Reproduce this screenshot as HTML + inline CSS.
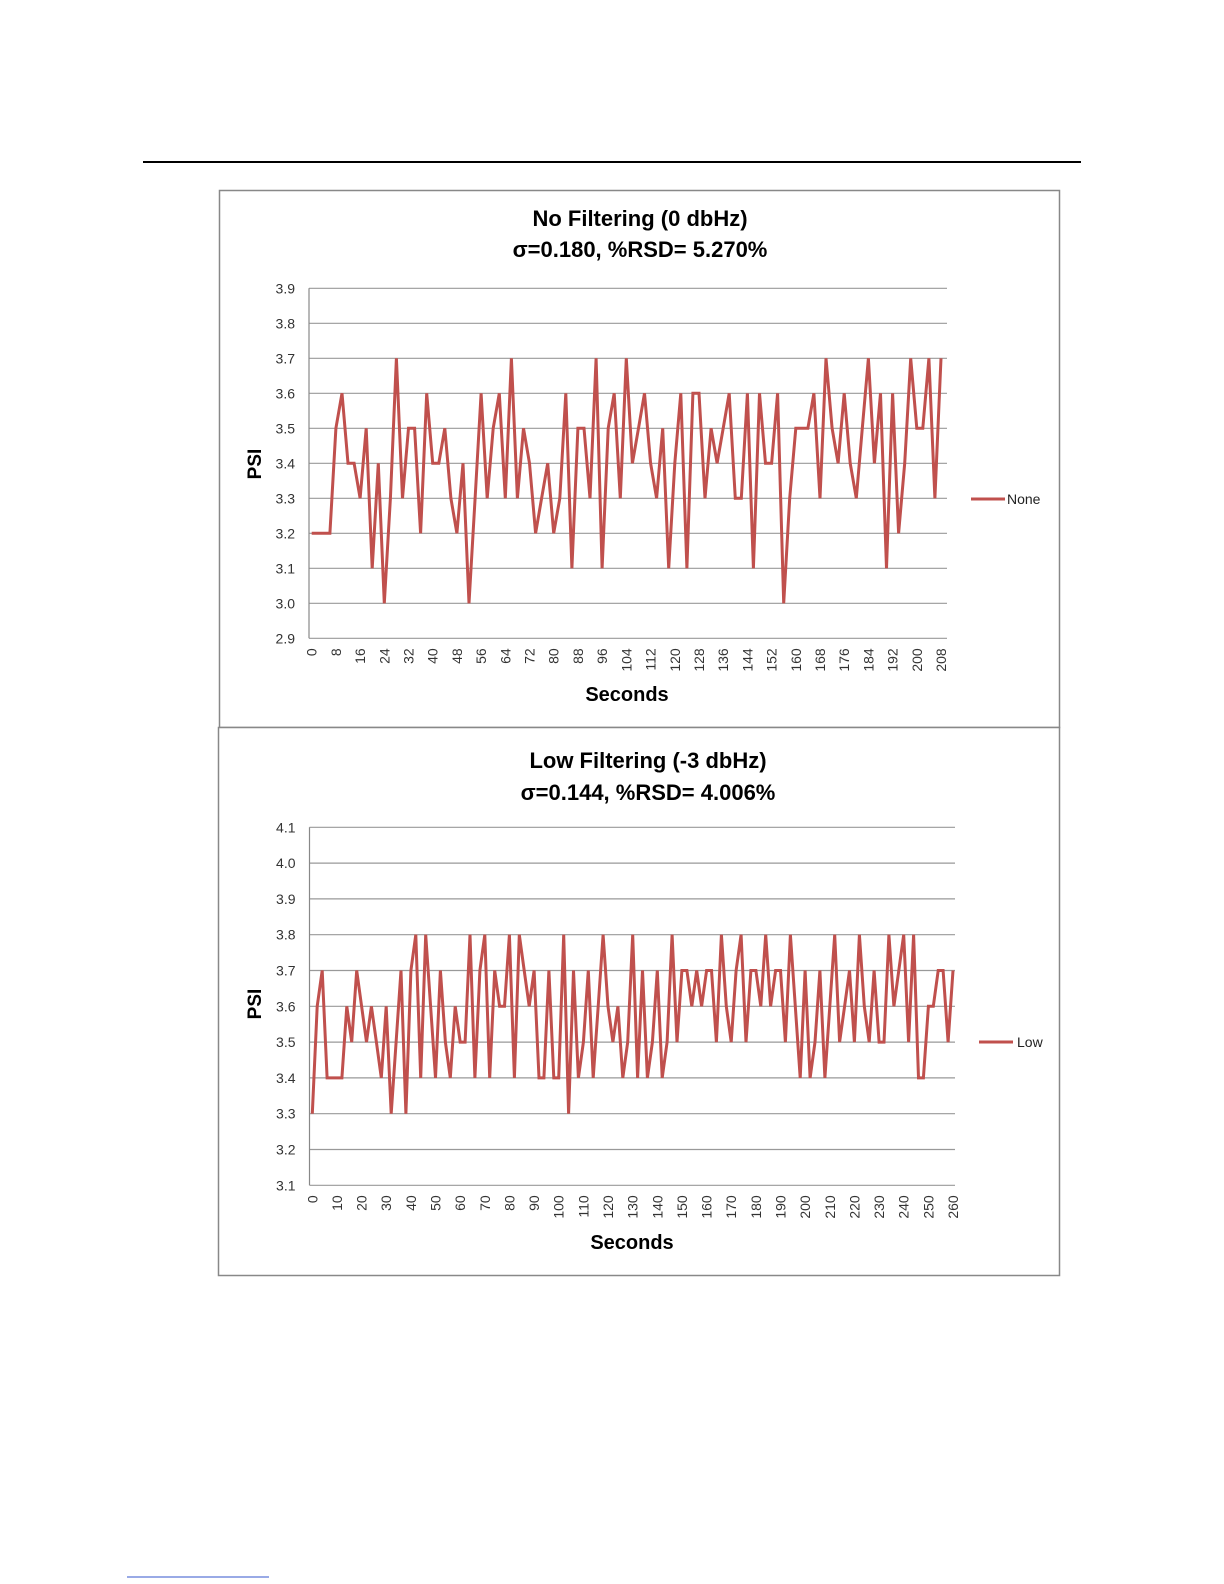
<!DOCTYPE html>
<html><head><meta charset="utf-8"><style>
html,body{margin:0;padding:0;background:#fff;}
svg{display:block;font-family:"Liberation Sans",sans-serif;}
</style></head><body>
<svg id="s" width="1224" height="1584" viewBox="0 0 1224 1584" xmlns="http://www.w3.org/2000/svg">
<rect width="1224" height="1584" fill="#fff"/>
<line x1="143" y1="162" x2="1081" y2="162" stroke="#000" stroke-width="2"/>
<line x1="127" y1="1577" x2="269" y2="1577" stroke="#3355cc" stroke-width="1"/>
<rect x="219.5" y="190.5" width="840" height="537" fill="#fff" stroke="#888" stroke-width="1.5"/>
<rect x="218.5" y="727.5" width="841" height="548" fill="#fff" stroke="#888" stroke-width="1.5"/>
<g font-weight="bold" font-size="22" text-anchor="middle" fill="#000">
<text x="640" y="226">No Filtering (0 dbHz)</text>
<text x="640" y="257">σ=0.180, %RSD= 5.270%</text>
<text x="648" y="768">Low Filtering (-3 dbHz)</text>
<text x="648" y="800">σ=0.144, %RSD= 4.006%</text>
<text x="627" y="701" font-size="20">Seconds</text>
<text x="632" y="1249" font-size="20">Seconds</text>
<text font-size="19" transform="translate(261,464) rotate(-90)">PSI</text>
<text font-size="19" transform="translate(261,1004) rotate(-90)">PSI</text>
</g>
<g id="c1"></g><g id="c2"></g>
<line x1="971" y1="499" x2="1005" y2="499" stroke="#c0504d" stroke-width="3"/>
<text x="1007" y="504" font-size="14" fill="#222">None</text>
<line x1="979" y1="1042" x2="1013" y2="1042" stroke="#c0504d" stroke-width="3"/>
<text x="1017" y="1047" font-size="14" fill="#222">Low</text>
</svg>
<script>
const NS="http://www.w3.org/2000/svg";
function el(p,t,a,txt){const e=document.createElementNS(NS,t);for(const k in a)e.setAttribute(k,a[k]);if(txt!==undefined)e.textContent=txt;p.appendChild(e);return e;}
function chart(g,o){
 const {L,R,top,vmax,vmin,step,py,x0,dx,data,tickEvery,tickStep}=o;
 const n=Math.round((vmax-vmin)/step);
 for(let i=0;i<=n;i++){const v=vmax-i*step;const y=top+i*py;
  el(g,'line',{x1:L,x2:R,y1:y,y2:y,stroke:'#999','stroke-width':1.2});
  el(g,'text',{x:L-14,y:y+5,'font-size':14,'text-anchor':'end',fill:'#333'},v.toFixed(1));}
 const bottom=top+n*py;
 el(g,'line',{x1:L,x2:L,y1:top,y2:bottom,stroke:'#888','stroke-width':1.2});
 let pts=data.map((v,i)=>(x0+i*dx).toFixed(1)+','+(top+(vmax-v)/step*py).toFixed(1)).join(' ');
 el(g,'polyline',{points:pts,fill:'none',stroke:'#c0504d','stroke-width':3,'stroke-linejoin':'miter'});
 for(let i=0;i<data.length;i+=tickEvery){const x=x0+i*dx;
  el(g,'text',{'font-size':14,fill:'#333','text-anchor':'end',transform:`translate(${x+5},${bottom+10}) rotate(-90)`},String(i/tickEvery*tickStep));}
}
const d1=[3.2,3.2,3.2,3.2,3.5,3.6,3.4,3.4,3.3,3.5,3.1,3.4,3.0,3.3,3.7,3.3,3.5,3.5,3.2,3.6,3.4,3.4,3.5,3.3,3.2,3.4,3.0,3.3,3.6,3.3,3.5,3.6,3.3,3.7,3.3,3.5,3.4,3.2,3.3,3.4,3.2,3.3,3.6,3.1,3.5,3.5,3.3,3.7,3.1,3.5,3.6,
3.3,3.7,3.4,3.5,3.6,3.4,3.3,3.5,3.1,3.4,3.6,3.1,3.6,3.6,3.3,3.5,3.4,3.5,3.6,3.3,3.3,3.6,3.1,3.6,3.4,3.4,3.6,3.0,3.3,3.5,3.5,3.5,3.6,3.3,3.7,3.5,3.4,3.6,3.4,3.3,3.5,3.7,3.4,3.6,3.1,3.6,3.2,3.4,3.7,3.5,3.5,3.7,3.3,3.7];
const d2=[3.3,3.6,3.7,3.4,3.4,3.4,3.4,3.6,3.5,3.7,3.6,3.5,3.6,3.5,3.4,3.6,3.3,3.5,3.7,3.3,3.7,3.8,3.4,3.8,3.6,3.4,3.7,3.5,3.4,3.6,3.5,3.5,3.8,3.4,3.7,3.8,3.4,3.7,3.6,3.6,3.8,3.4,3.8,3.7,3.6,3.7,3.4,3.4,3.7,3.4,3.4,3.8,3.3,3.7,3.4,3.5,3.7,3.4,3.6,3.8,3.6,3.5,3.6,
3.4,3.5,3.8,3.4,3.7,3.4,3.5,3.7,3.4,3.5,3.8,3.5,3.7,3.7,3.6,3.7,3.6,3.7,3.7,3.5,3.8,3.6,3.5,3.7,3.8,3.5,3.7,3.7,3.6,3.8,3.6,3.7,3.7,3.5,3.8,3.6,3.4,3.7,3.4,3.5,3.7,3.4,3.6,3.8,3.5,3.6,3.7,3.5,3.8,3.6,3.5,3.7,3.5,3.5,3.8,3.6,3.7,3.8,3.5,3.8,3.4,3.4,3.6,3.6,3.7,3.7,3.5,3.7];
chart(document.getElementById('c1'),{L:309,R:947,top:288.3,vmax:3.9,vmin:2.9,step:0.1,py:35,x0:311.7,dx:(941-311.7)/(d1.length-1),data:d1,tickEvery:4,tickStep:8});
chart(document.getElementById('c2'),{L:309.5,R:955,top:827.3,vmax:4.1,vmin:3.1,step:0.1,py:35.8,x0:312.3,dx:(953-312.3)/(d2.length-1),data:d2,tickEvery:5,tickStep:10});
</script>
</body></html>
